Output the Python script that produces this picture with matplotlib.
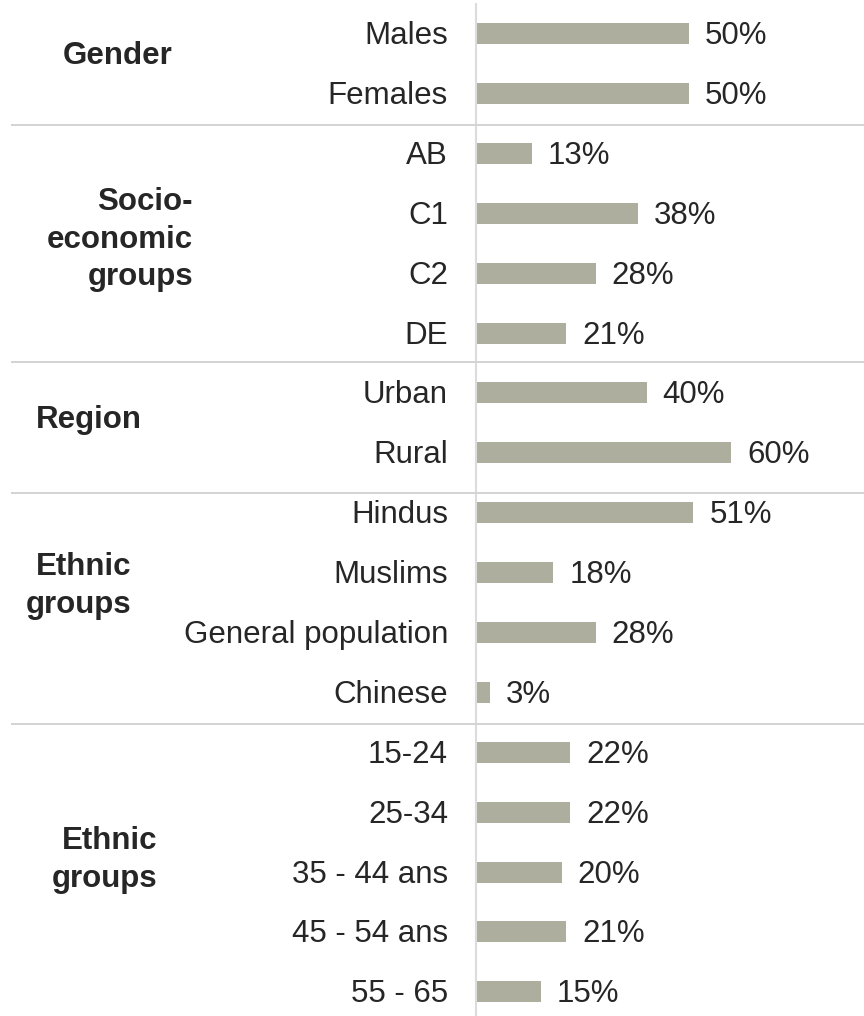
import matplotlib
matplotlib.use("Agg")
import matplotlib.pyplot as plt

# ---- data ----
categories = ["Males", "Females",
              "AB", "C1", "C2", "DE",
              "Urban", "Rural",
              "Hindus", "Muslims", "General population", "Chinese",
              "15-24", "25-34", "35 - 44 ans", "45 - 54 ans", "55 - 65"]
values = [50, 50,
          13, 38, 28, 21,
          40, 60,
          51, 18, 28, 3,
          22, 22, 20, 21, 15]
group_titles = ["Gender", "Socio-\neconomic\ngroups", "Region",
                "Ethnic\ngroups", "Ethnic\ngroups"]
group_sizes = [2, 4, 2, 4, 5]

# ---- style / layout ----
W, H, DPI = 864, 1016, 100
BAR_COLOR = "#adae9e"
TEXT_COLOR = "#262626"
RULE_COLOR = "#d3d3d3"
AXIS_COLOR = "#dcdcdc"
FONT = "Liberation Sans"
FS = 22.5

x0_px, px_per_unit = 477.0, 4.24        # where bars start, pixels per percent
row0_px, row_px = 33.5, 59.9            # first row centre, row pitch

plt.rcParams["font.family"] = [FONT, "DejaVu Sans"]

fig = plt.figure(figsize=(W / DPI, H / DPI), dpi=DPI)
fig.patch.set_facecolor("white")
ax = fig.add_axes([0, 0, 1, 1])
ax.set_xlim(-x0_px / px_per_unit, (W - x0_px) / px_per_unit)
ax.set_ylim((H - row0_px) / row_px, -row0_px / row_px)
ax.axis("off")

rows = list(range(len(categories)))
ax.barh(rows, values, height=21 / row_px, left=0, color=BAR_COLOR, zorder=3)

baseline_off = 10.5 / row_px
label_x = (448 - x0_px) / px_per_unit
for i, (cat, v) in enumerate(zip(categories, values)):
    ax.text(label_x, i + baseline_off, cat, ha="right", va="baseline",
            fontsize=FS, color=TEXT_COLOR)
    ax.text(v + 16 / px_per_unit, i + baseline_off, f"{v}%", ha="left",
            va="baseline", fontsize=FS, color=TEXT_COLOR)

# vertical axis line
fig.add_artist(plt.Line2D([476.3 / W, 476.3 / W], [0, 1 - 4 / H],
                          transform=fig.transFigure, color=AXIS_COLOR,
                          lw=1.5, zorder=1))

# horizontal rules between groups
for y_px in [124.7, 362.0, 492.7, 724.3]:
    fig.add_artist(plt.Line2D([12 / W, 1.0], [1 - y_px / H, 1 - y_px / H],
                              transform=fig.transFigure, color=RULE_COLOR,
                              lw=1.4, zorder=1))

# group titles (right-aligned, one text per line)
title_right_px = [173, 193, 141.7, 131, 157]
title_base_px = [64, 210, 428.3, 575, 849.3]
line_gap_px = 37.5
for title, rx, by in zip(group_titles, title_right_px, title_base_px):
    for k, line in enumerate(title.split("\n")):
        fig.text(rx / W, 1 - (by + k * line_gap_px) / H, line,
                 ha="right", va="baseline", fontsize=FS,
                 fontweight="bold", color=TEXT_COLOR)

fig.savefig("out.png", dpi=DPI, facecolor="white")
